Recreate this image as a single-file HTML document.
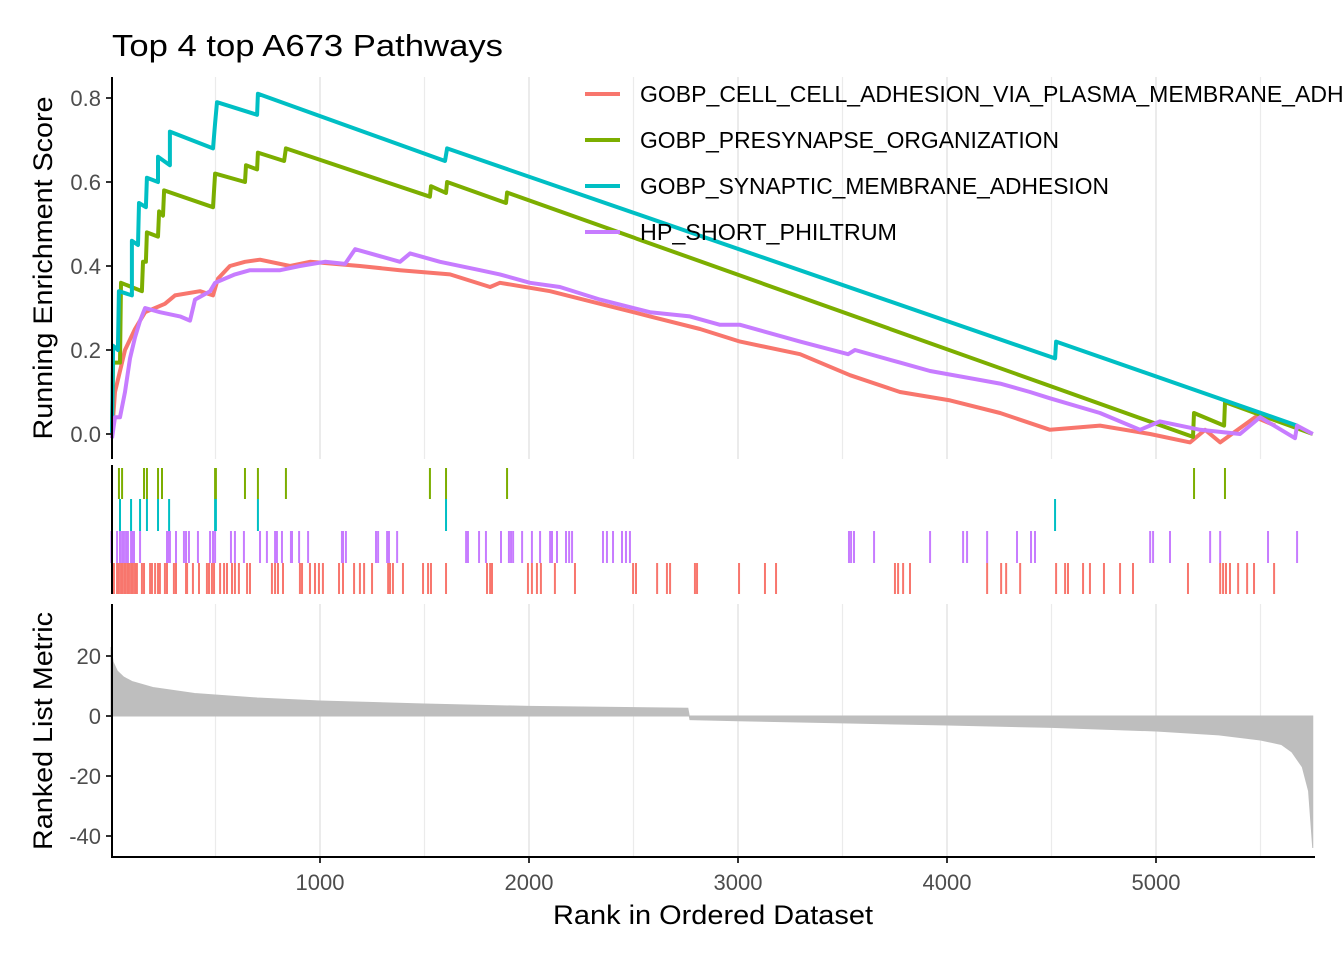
<!DOCTYPE html>
<html><head><meta charset="utf-8">
<style>
html,body{margin:0;padding:0;background:#fff;}
svg{display:block;font-family:"Liberation Sans",Arial,sans-serif;}
</style></head>
<body>
<svg id="chart" width="1344" height="960" viewBox="0 0 1344 960" xmlns="http://www.w3.org/2000/svg">
<text x="112" y="56" font-size="31" textLength="391" lengthAdjust="spacingAndGlyphs" fill="#000">Top 4 top A673 Pathways</text>
<g id="grid"></g>
<g id="metric"></g>
<g id="rugs"></g>
<g id="lines"></g>
<g id="axes"></g>
<g id="legend"></g>
<text transform="translate(52,268) rotate(-90)" text-anchor="middle" font-size="27" textLength="343" lengthAdjust="spacingAndGlyphs" fill="#000">Running Enrichment Score</text>
<text transform="translate(52,731) rotate(-90)" text-anchor="middle" font-size="27" textLength="238" lengthAdjust="spacingAndGlyphs" fill="#000">Ranked List Metric</text>
<text x="713" y="924" text-anchor="middle" font-size="27" textLength="320" lengthAdjust="spacingAndGlyphs" fill="#000">Rank in Ordered Dataset</text>
</svg>
<script>
const pathwayNames = ["GOBP_CELL_CELL_ADHESION_VIA_PLASMA_MEMBRANE_ADHESION_MOLECULES","GOBP_PRESYNAPSE_ORGANIZATION","GOBP_SYNAPTIC_MEMBRANE_ADHESION","HP_SHORT_PHILTRUM"];
const pathwayColors = ["#F8766D","#7CAE00","#00BFC4","#C77CFF"];
const legendLengths = [930,419,469,257];
const xTicks = [1000,2000,3000,4000,5000];
const esTicks = [0.0,0.2,0.4,0.6,0.8];
const esTickLabels = ["0.0","0.2","0.4","0.6","0.8"];
const metricTicks = [20,0,-20,-40];
const metricTickLabels = ["20","0","-20","-40"];

const redRank = [5,19,43,67,115,163,258,306,426,488,512,569,641,713,857,952,1191,1383,1622,1814,1861,2101,2340,2579,2818,3010,3297,3536,3775,4015,4254,4493,4732,4972,5163,5235,5307,5474,5570];
const redES = [0,0.1,0.15,0.2,0.25,0.29,0.31,0.33,0.34,0.33,0.37,0.40,0.41,0.415,0.40,0.41,0.40,0.39,0.38,0.35,0.36,0.34,0.31,0.28,0.25,0.22,0.19,0.14,0.10,0.08,0.05,0.01,0.02,0.0,-0.02,0.01,-0.02,0.04,0.02];
const greenRank = [5,10,43,48,148,153,167,172,225,230,249,254,488,498,641,646,699,703,828,837,1526,1531,1603,1608,1890,1895,5177,5182,5326,5330,5750];
const greenES = [0,0.17,0.17,0.36,0.34,0.41,0.41,0.48,0.47,0.53,0.52,0.58,0.54,0.62,0.60,0.64,0.63,0.67,0.65,0.68,0.565,0.59,0.574,0.60,0.55,0.575,-0.007,0.05,0.02,0.076,0.0];
const cyanRank = [5,10,33,38,100,100,129,134,167,172,225,225,282,282,488,498,507,699,703,1598,1608,4517,4522,5675];
const cyanES = [0,0.21,0.20,0.34,0.33,0.46,0.45,0.55,0.54,0.61,0.60,0.66,0.64,0.72,0.68,0.74,0.79,0.76,0.81,0.65,0.68,0.18,0.22,0.02];
const purpleRank = [5,19,43,67,91,115,139,163,234,330,378,402,474,498,593,665,809,904,1024,1120,1168,1383,1431,1574,1766,1861,2005,2148,2340,2579,2770,2914,3010,3297,3527,3560,3775,3919,4254,4397,4493,4732,4924,5019,5211,5402,5498,5665,5675,5750];
const purpleES = [-0.01,0.04,0.04,0.1,0.18,0.23,0.27,0.3,0.29,0.28,0.27,0.32,0.34,0.36,0.38,0.39,0.39,0.40,0.41,0.405,0.44,0.41,0.43,0.41,0.39,0.38,0.36,0.35,0.32,0.29,0.28,0.26,0.26,0.22,0.19,0.2,0.17,0.15,0.12,0.1,0.085,0.05,0.01,0.03,0.01,0.0,0.04,-0.01,0.02,0.0];

const greenHits = [38,53,158,172,225,244,498,502,641,703,837,1526,1603,1895,5182,5330];
const cyanHits = [43,96,139,172,225,278,498,502,703,1603,4517];
const purpleHits = [2,29,43,53,62,72,81,96,105,110,139,268,273,282,311,349,359,373,416,474,488,498,574,593,636,713,746,785,794,818,861,866,900,943,1105,1110,1124,1268,1278,1321,1330,1369,1699,1708,1761,1794,1866,1904,1914,1924,1967,2014,2053,2101,2110,2134,2177,2192,2206,2354,2373,2402,2445,2464,2483,3531,3541,3555,3651,3919,4077,4096,4192,4335,4402,4421,4972,4986,5067,5259,5307,5536,5675];
const redHits = [5,14,29,38,48,57,67,77,86,96,105,115,124,148,158,187,196,211,225,234,258,268,301,311,359,364,392,421,459,469,483,493,522,541,555,579,593,612,651,665,770,785,799,823,904,914,952,976,995,1014,1091,1110,1163,1191,1211,1249,1326,1335,1349,1397,1493,1517,1531,1603,1799,1814,1823,1995,2014,2038,2057,2124,2220,2498,2512,2613,2660,2675,2794,2804,3005,3129,3182,3751,3766,3790,3823,4192,4259,4283,4350,4522,4565,4579,4651,4684,4751,4828,4890,5153,5307,5321,5335,5354,5393,5436,5469,5565];

const metricRank = [0,10,30,60,100,200,400,700,1000,1500,2000,2760,2770,3000,3500,4000,4500,5000,5300,5500,5600,5650,5700,5730,5750];
const metricValue = [23,18,15,13,11.5,9.5,7.5,6,5,4,3.2,2.6,-1.2,-1.6,-2.3,-3,-3.8,-5,-6.3,-8,-9.5,-12,-17,-25,-44];

const NS="http://www.w3.org/2000/svg";
const X0=111, XK=0.209;
const x = r => X0 + r*XK;
const yES = v => 434 - v*420;
const yM = v => 716 - v*3;
function mk(tag, attrs, parent){const e=document.createElementNS(NS,tag);for(const k in attrs)e.setAttribute(k,attrs[k]);parent.appendChild(e);return e;}

const grid=document.getElementById('grid');
for(let r=500;r<=5500;r+=500){
  const major = r%1000===0;
  [[77,459],[604,857]].forEach(([a,b])=>{
    const l=mk('line',{x1:x(r),x2:x(r),y1:a,y2:b,stroke:'#ebebeb','stroke-width':major?2:1.2},grid);
    
    
  });
}

const metric=document.getElementById('metric');
let d=`M${x(metricRank[0])},${yM(0)}`;
metricRank.forEach((r,i)=>{d+=` L${x(r)},${yM(metricValue[i])}`;});
d+=` L${x(metricRank[metricRank.length-1])},${yM(0)} Z`;
const area=mk('path',{d:d,fill:'#bebebe',stroke:'#bebebe','stroke-width':1},metric);



const rugs=document.getElementById('rugs');
const rugSets=[[greenHits,1,468,499],[cyanHits,2,499,531],[purpleHits,3,531,563],[redHits,0,563,594]];
rugSets.forEach(([hits,ci,a,b])=>{
  hits.forEach(h=>{
    const l=mk('line',{x1:x(h),x2:x(h),y1:a,y2:b,stroke:pathwayColors[ci],'stroke-width':2},rugs);
    
    
  });
});

const lines=document.getElementById('lines');
const series=[[redRank,redES,0],[greenRank,greenES,1],[cyanRank,cyanES,2],[purpleRank,purpleES,3]];
series.forEach(([rs,vs,ci])=>{
  const pts=rs.map((r,i)=>`${x(r).toFixed(1)},${yES(vs[i]).toFixed(1)}`).join(' ');
  const p=mk('polyline',{points:pts,fill:'none',stroke:pathwayColors[ci],'stroke-width':4,'stroke-linejoin':'round'},lines);
  
  
});

const axes=document.getElementById('axes');
[[77,459],[465,594],[604,857]].forEach(([a,b])=>{
  const l=mk('line',{x1:112,x2:112,y1:a,y2:b,stroke:'#000','stroke-width':2},axes);
  
  
});
const xl=mk('line',{x1:111,x2:1315,y1:857,y2:857,stroke:'#000','stroke-width':2},axes);


esTicks.forEach((v,i)=>{
  mk('line',{x1:106,x2:111,y1:yES(v),y2:yES(v),stroke:'#333','stroke-width':2},axes);
  const t=mk('text',{x:101,y:yES(v)+8,'text-anchor':'end','font-size':22,fill:'#4d4d4d'},axes);
  t.textContent=esTickLabels[i];
  
  
});
metricTicks.forEach((v,i)=>{
  mk('line',{x1:106,x2:111,y1:yM(v),y2:yM(v),stroke:'#333','stroke-width':2},axes);
  const t=mk('text',{x:101,y:yM(v)+8,'text-anchor':'end','font-size':22,fill:'#4d4d4d'},axes);
  t.textContent=metricTickLabels[i];
  
  
});
xTicks.forEach(v=>{
  mk('line',{x1:x(v),x2:x(v),y1:858,y2:863,stroke:'#333','stroke-width':2},axes);
  const t=mk('text',{x:x(v),y:890,'text-anchor':'middle','font-size':22,fill:'#4d4d4d'},axes);
  t.textContent=String(v);
  
  
});

const legend=document.getElementById('legend');
pathwayNames.forEach((n,i)=>{
  const y=94+i*46;
  const l=mk('line',{x1:585,x2:620,y1:y,y2:y,stroke:pathwayColors[i],'stroke-width':4},legend);
  
  
  const t=mk('text',{x:640,y:y+8,'font-size':23,fill:'#000',textLength:legendLengths[i],lengthAdjust:'spacingAndGlyphs'},legend);
  t.textContent=n;
  
  
});
</script>
</body></html>
